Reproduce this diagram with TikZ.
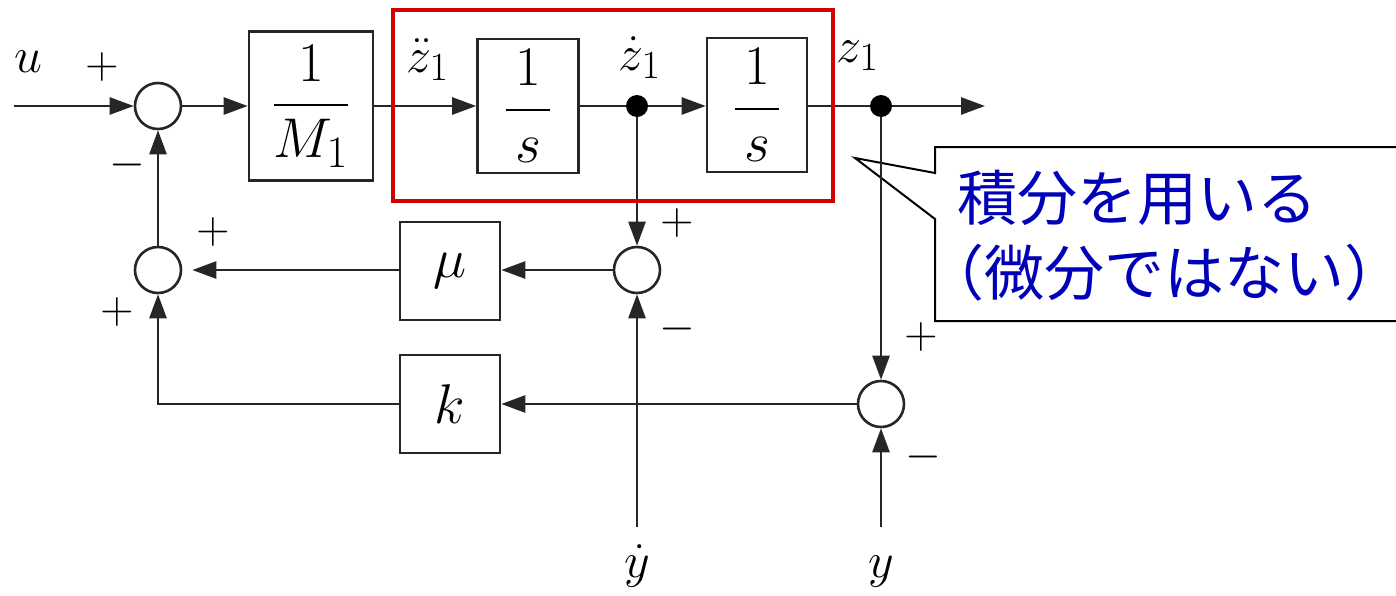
\RequirePackage{fix-cm}
\documentclass[tikz,border=0pt]{standalone}
\usepackage{amsmath}
\usepackage{fontspec}
\newfontfamily\jpfont{Noto Sans CJK JP}
\usetikzlibrary{arrows.meta}
\DeclareMathSizes{25}{25}{20}{16}
\DeclareMathSizes{28}{28}{22.5}{18}
\definecolor{boxred}{RGB}{210,0,0}
\definecolor{jpblue}{RGB}{0,0,185}
\begin{document}
\begin{tikzpicture}[x=0.5pt,y=-0.5pt,
  line/.style={line width=1.3pt, draw=black!85},
  arr/.style={line, -{Triangle[length=12pt,width=8.5pt]}},
  blk/.style={draw=black!85, line width=1.3pt, fill=white, inner sep=0pt},
  sumnode/.style={circle, draw=black!85, line width=1.3pt, minimum size=23pt, inner sep=0pt},
  dotnode/.style={circle, fill=black, minimum size=11pt, inner sep=0pt},
  lbl/.style={font=\fontsize{25}{29}\selectfont, inner sep=0pt, anchor=base},
  sgn/.style={font=\fontsize{23}{27}\selectfont, inner sep=0pt},
  bigmath/.style={font=\fontsize{28}{32}\selectfont},
  jptext/.style={font=\jpfont\fontsize{30}{36}\selectfont, text=jpblue, inner sep=0pt, anchor=west}
]
\useasboundingbox (0,0) rectangle (1396,595);
\fill[white] (0,0) rectangle (1396,595);

% callout
\draw[line width=1pt, fill=white] (935,147) -- (1402,147) -- (1402,321) -- (935,321) -- (935,219) -- (855,158) -- (935,173) -- cycle;
\node[jptext] (t1) at (957,198) {積分を用いる};
\node[jptext] (t2) at (957,273) {\makebox[0.45em][r]{（}微分ではない\makebox[0.45em][l]{）}};

% nodes
\node[sumnode] (s1) at (158,106) {};
\node[sumnode] (s2) at (158,270) {};
\node[sumnode] (s3) at (637,270) {};
\node[sumnode] (s4) at (881,404) {};
\node[blk, minimum width=62pt, minimum height=74.5pt, bigmath] (M) at (311,106) {$\dfrac{1}{M_1}$};
\node[blk, minimum width=50.5pt, minimum height=67pt, bigmath] (I1) at (528,106) {$\dfrac{\makebox[22pt]{$1$}}{s}$};
\node[blk, minimum width=50pt, minimum height=67pt, bigmath] (I2) at (757,105) {$\dfrac{\makebox[22pt]{$1$}}{s}$};
\node[blk, minimum width=50pt, minimum height=49pt, bigmath] (mu) at (450,271) {$\mu$};
\node[blk, minimum width=50pt, minimum height=49pt, bigmath] (k) at (450,404) {$k$};
\node[dotnode] (d1) at (637,106) {};
\node[dotnode] (d2) at (881,106) {};
\coordinate (uin) at (14,106);
\coordinate (zout) at (985,106);
\coordinate (yd) at (637,527);
\coordinate (yy) at (881,527);
\coordinate (c1) at (158,404);

% connectors
\draw[arr] (uin) -- (s1);
\draw[arr] (s1) -- (M);
\draw[arr] (M) -- (I1.west |- M);
\draw[line] (I1.east |- d1) -- (d1);
\draw[arr] (d1) -- (I2.west |- d1);
\draw[line] (I2.east |- d2) -- (d2);
\draw[arr] (d2) -- (zout);
\draw[arr] (d1) -- (s3);
\draw[arr] (d2) -- (s4);
\draw[arr] (s3) -- (mu.east |- s3);
\draw[arr, shorten >=5pt] (mu.west |- s2) -- (s2);
\draw[arr] (s4) -- (k);
\draw[arr] (k) -- (c1) -- (s2);
\draw[arr] (s2) -- (s1);
\draw[arr] (yd) -- (s3);
\draw[arr] (yy) -- (s4);

% red frame
\draw[boxred, line width=2pt] (393,10) rectangle (833,201);

% labels
\node[lbl] (lu) at (28,72) {$u$};
\node[lbl] (lz2) at (428,72) {$\ddot z_1$};
\node[lbl] (lz1) at (640,70) {$\dot z_1$};
\node[lbl] (lz0) at (858,62) {$z_1$};
\node[lbl] (lyd) at (637,577) {$\dot y$};
\node[lbl] (ly) at (881,577) {$y$};

% signs
\node[sgn] (p1) at (102,67) {$+$};
\node[sgn] (m1) at (127,165) {$-$};
\node[sgn] (p2) at (213,232) {$+$};
\node[sgn] (p3) at (117,312) {$+$};
\node[sgn] (p4) at (677,223) {$+$};
\node[sgn] (m4) at (677,329) {$-$};
\node[sgn] (p5) at (921,337) {$+$};
\node[sgn] (m5) at (923,457) {$-$};
\end{tikzpicture}
\end{document}
